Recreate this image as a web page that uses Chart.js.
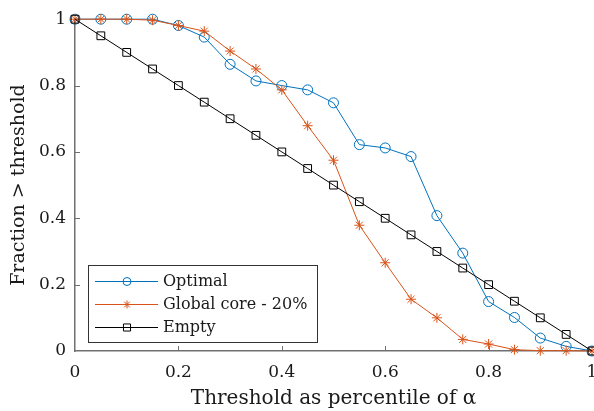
<!DOCTYPE html>
<html>
<head>
<meta charset="utf-8">
<script src="https://cdn.jsdelivr.net/npm/chart.js@4"></script>
<style>
  html, body { margin: 0; padding: 0; background: #fff; overflow: hidden; }
</style>
</head>
<body>
<canvas id="chart" width="594" height="411"></canvas>
<script>
// data
const thresholds = [0, 0.05, 0.1, 0.15, 0.2, 0.25, 0.3, 0.35, 0.4, 0.45, 0.5, 0.55, 0.6, 0.65, 0.7, 0.75, 0.8, 0.85, 0.9, 0.95, 1];
const optimal    = [1, 1, 1, 1, 0.981, 0.946, 0.864, 0.814, 0.8, 0.787, 0.748, 0.622, 0.612, 0.586, 0.408, 0.295, 0.149, 0.101, 0.039, 0.014, 0];
const globalCore = [1, 1, 1, 0.997, 0.981, 0.964, 0.904, 0.85, 0.787, 0.679, 0.575, 0.379, 0.266, 0.156, 0.1, 0.035, 0.021, 0.004, 0.001, 0.001, 0];
const empty      = [1, 0.95, 0.9, 0.85, 0.8, 0.75, 0.7, 0.65, 0.6, 0.55, 0.5, 0.45, 0.4, 0.35, 0.3, 0.25, 0.2, 0.15, 0.1, 0.05, 0];
const xTicks = [0, 0.2, 0.4, 0.6, 0.8, 1];
const yTicks = [0, 0.2, 0.4, 0.6, 0.8, 1];

const FONT = 'DejaVu Serif';
const AXIS = '#707070';
const TEXT = '#1a1a1a';

const pts = ys => thresholds.map((x, i) => ({ x, y: ys[i] }));

// MATLAB style inward tick marks
const innerTicks = {
  id: 'innerTicks',
  beforeDatasetsDraw(chart) {
    const { ctx, chartArea: a, scales: { x, y } } = chart;
    ctx.save();
    ctx.strokeStyle = AXIS;
    ctx.lineWidth = 1;
    ctx.beginPath();
    xTicks.slice(1, -1).forEach(v => {
      const px = Math.round(x.getPixelForValue(v)) + 0.5;
      ctx.moveTo(px, a.bottom); ctx.lineTo(px, a.bottom - 5);
    });
    yTicks.slice(1, -1).forEach(v => {
      const py = Math.round(y.getPixelForValue(v)) + 0.5;
      ctx.moveTo(a.left, py); ctx.lineTo(a.left + 5, py);
    });
    ctx.stroke();
    ctx.restore();
  }
};

// boxed legend inside the plot, lower left
const boxLegend = {
  id: 'boxLegend',
  afterDraw(chart) {
    const { ctx } = chart;
    const bx = 88.5, by = 265.5, bw = 229, bh = 77;
    ctx.save();
    ctx.fillStyle = '#fff';
    ctx.strokeStyle = '#333';
    ctx.lineWidth = 1;
    ctx.fillRect(bx, by, bw, bh);
    ctx.strokeRect(bx, by, bw, bh);
    const rows = [281, 304, 327];
    chart.data.datasets.forEach((ds, i) => {
      const ry = rows[i] + 0.5;
      ctx.strokeStyle = ds.borderColor;
      ctx.lineWidth = 1;
      ctx.beginPath();
      ctx.moveTo(95, ry); ctx.lineTo(158, ry);
      ctx.stroke();
      ctx.fillStyle = 'rgba(0,0,0,0)';
      Chart.helpers.drawPoint(ctx, { pointStyle: ds.pointStyle, radius: ds.legendRadius, rotation: 0, borderWidth: 1 }, 127, ry);
      ctx.fillStyle = TEXT;
      ctx.font = `16px "${FONT}"`;
      ctx.textBaseline = 'middle';
      ctx.fillText(ds.label, 163, ry);
    });
    ctx.restore();
  }
};

new Chart(document.getElementById('chart'), {
  type: 'line',
  data: {
    datasets: [
      { label: 'Optimal', data: pts(optimal), borderColor: '#0072BD', pointStyle: 'circle', pointRadius: 5, legendRadius: 4, order: 3 },
      { label: 'Global core - 20%', data: pts(globalCore), borderColor: '#D95319', pointStyle: 'star', pointRadius: 5, legendRadius: 4, order: 2 },
      { label: 'Empty', data: pts(empty), borderColor: '#000000', pointStyle: 'rect', pointRadius: 5.5, legendRadius: 5, order: 1 }
    ].map(ds => ({
      ...ds,
      borderWidth: 1,
      pointBorderColor: ds.borderColor,
      pointBackgroundColor: 'rgba(0,0,0,0)',
      pointBorderWidth: 1,
      tension: 0,
      clip: false
    }))
  },
  options: {
    responsive: false,
    animation: false,
    layout: { autoPadding: false, padding: { top: 17, right: 2, left: 0, bottom: 0 } },
    plugins: { legend: { display: false }, tooltip: { enabled: false } },
    scales: {
      x: {
        type: 'linear', min: 0, max: 1,
        afterBuildTicks: s => { s.ticks = xTicks.map(v => ({ value: v })); },
        afterFit: s => { s.height = 60; s.paddingLeft = 0; s.paddingRight = 0; },
        ticks: { color: TEXT, font: { family: FONT, size: 17 }, padding: 11, maxRotation: 0, callback: v => String(v) },
        grid: { drawOnChartArea: false, drawTicks: false },
        border: { color: AXIS, width: 1.5 },
        title: { display: true, text: 'Threshold as percentile of α', color: TEXT, font: { family: FONT, size: 20 }, padding: { top: 0, bottom: 0 } }
      },
      y: {
        min: 0, max: 1,
        afterBuildTicks: s => { s.ticks = yTicks.map(v => ({ value: v })); },
        afterFit: s => { s.width = 75; },
        ticks: { color: TEXT, font: { family: FONT, size: 17 }, padding: 9, callback: v => String(v) },
        grid: { drawOnChartArea: false, drawTicks: false },
        border: { color: AXIS, width: 1.5 },
        title: { display: true, text: 'Fraction > threshold', color: TEXT, font: { family: FONT, size: 19 }, padding: { top: 8, bottom: 0 } }
      }
    }
  },
  plugins: [innerTicks, boxLegend]
});
</script>
</body>
</html>
